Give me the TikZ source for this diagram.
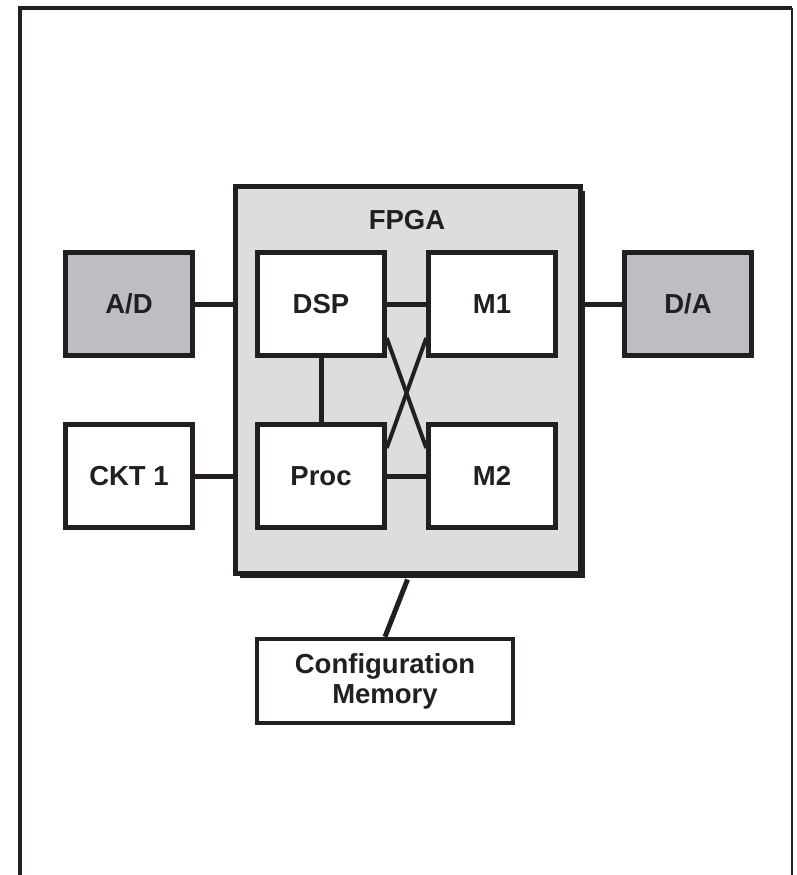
\documentclass[tikz,border=0pt]{standalone}
\usepackage{fontspec}
\setmainfont{Liberation Sans}
\usetikzlibrary{shadows,calc}
\definecolor{ink}{HTML}{231F20}
\definecolor{fpgagray}{HTML}{DCDDDF}
\definecolor{adgray}{HTML}{BDBEC2}
\begin{document}
\begin{tikzpicture}[x=1pt,y=-1pt,
  lbl/.style={font=\fontsize{27.5}{30}\selectfont\bfseries, text=ink},
  box/.style={lbl, draw=ink, line width=4.5pt, fill=white, minimum width=127pt, minimum height=103pt,
    inner sep=0pt,
    drop shadow={shadow xshift=2pt, shadow yshift=-2pt, fill=black!45, opacity=1}},
  darkbox/.style={box, fill=adgray},
  fpgabox/.style={draw=ink, line width=5pt, fill=fpgagray, minimum width=345pt, minimum height=387pt,
    inner sep=0pt, drop shadow={shadow xshift=5pt, shadow yshift=-5pt, fill=ink, opacity=1}},
  wire/.style={draw=ink, line width=5pt},
  frame/.style={draw=ink, line width=4pt}]
\useasboundingbox (0,0) rectangle (796,875);
% outer frame
\draw[frame] (20,875) -- (20,8) -- (792,8);
\draw[draw=ink, line width=2.5pt] (792,8) -- (792,875);
% FPGA
\node[fpgabox] (fpga) at (407.5,379.5) {};
\node[lbl, inner sep=0pt] (fpgalabel) at (407,220) {FPGA};
% boxes
\node[darkbox] (ad) at (129,304) {A/D};
\node[darkbox] (da) at (688,304) {D/A};
\node[box] (ckt) at (129,476) {CKT 1};
\node[box] (dsp) at (321,304) {DSP};
\node[box] (m1) at (492,304) {M1};
\node[box] (proc) at (321,476) {Proc};
\node[box] (m2) at (492,476) {M2};
\node[box, minimum width=256pt, minimum height=84pt, align=center] (cfg) at (385,681)
  {Configuration\\Memory};
% connectors
\draw[wire] (ad.east) -- (ad.east -| fpga.west);
\draw[wire] (da.west) -- (da.west -| fpga.east);
\draw[wire] (ckt.east) -- (ckt.east -| fpga.west);
\draw[wire] (dsp.east) -- (m1.west);
\draw[wire] (proc.east) -- (m2.west);
\draw[wire] (dsp.south) -- (proc.north);
\draw[wire, line width=4pt] ([yshift=-34pt]dsp.east) -- ([yshift=28pt]m2.west);
\draw[wire, line width=4pt] ([yshift=-34pt]m1.west) -- ([yshift=28pt]proc.east);
\draw[wire] ([yshift=-4pt]fpga.south) -- (cfg.north);
\end{tikzpicture}
\end{document}
